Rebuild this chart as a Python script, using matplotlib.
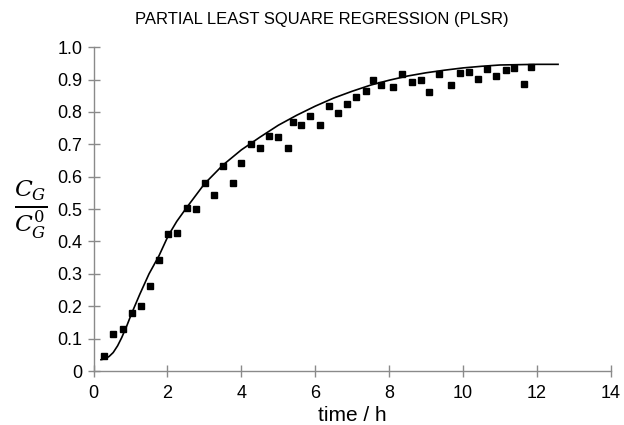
import matplotlib
matplotlib.use("Agg")
import matplotlib.pyplot as plt

# measured points (time in h, C_G / C_G^0)
time_obs = [0.28, 0.53, 0.79, 1.04, 1.29, 1.53, 1.77, 2.02, 2.27, 2.52, 2.76, 3.01,
            3.26, 3.51, 3.76, 4.00, 4.25, 4.50, 4.75, 5.00, 5.25, 5.39, 5.62, 5.86,
            6.12, 6.37, 6.62, 6.86, 7.11, 7.36, 7.55, 7.79, 8.10, 8.35, 8.61, 8.85,
            9.09, 9.36, 9.66, 9.92, 10.15, 10.40, 10.65, 10.90, 11.15, 11.39, 11.65, 11.84]
conc_obs = [0.047, 0.114, 0.130, 0.180, 0.200, 0.264, 0.344, 0.424, 0.427, 0.503, 0.499, 0.581,
            0.542, 0.634, 0.582, 0.641, 0.702, 0.689, 0.727, 0.723, 0.689, 0.770, 0.761, 0.787,
            0.761, 0.818, 0.796, 0.824, 0.846, 0.865, 0.900, 0.884, 0.878, 0.918, 0.894, 0.900,
            0.862, 0.916, 0.883, 0.921, 0.923, 0.903, 0.932, 0.910, 0.929, 0.936, 0.887, 0.940]

# PLSR model curve
time_fit = [0.20, 0.31, 0.42, 0.53, 0.65, 0.76, 0.90, 1.03, 1.25, 1.50, 1.77, 2.02, 2.25,
            2.52, 3.00, 3.50, 4.00, 4.50, 5.00, 5.50, 6.00, 6.50, 7.00, 7.50, 8.00,
            8.50, 9.00, 9.50, 10.00, 10.50, 11.00, 11.50, 12.00, 12.57]
conc_fit = [0.035, 0.038, 0.045, 0.057, 0.078, 0.103, 0.140, 0.178, 0.237, 0.300, 0.356, 0.418, 0.462,
            0.505, 0.578, 0.636, 0.683, 0.722, 0.759, 0.790, 0.818, 0.843, 0.864, 0.883, 0.898,
            0.911, 0.921, 0.929, 0.936, 0.941, 0.945, 0.946, 0.947, 0.947]

xticks = [0, 2, 4, 6, 8, 10, 12, 14]
yticks = [0, 0.1, 0.2, 0.3, 0.4, 0.5, 0.6, 0.7, 0.8, 0.9, 1.0]
ytick_labels = ["0"] + [f"{v:.1f}" for v in yticks[1:]]

plt.rcParams['font.family'] = ['Liberation Sans', 'DejaVu Sans']
plt.rcParams['mathtext.fontset'] = 'dejavuserif'

fig = plt.figure(figsize=(6.24, 4.25), dpi=100)
ax = fig.add_axes([0.150, 0.127, 0.829, 0.762])

ax.plot(time_fit, conc_fit, color='black', linewidth=1.2, zorder=2)
ax.plot(time_obs, conc_obs, linestyle='none', marker='s', markersize=5,
        color='black', zorder=3)

ax.set_xlim(0, 14)
ax.set_ylim(0, 1.0)
ax.set_xticks(xticks)
ax.set_yticks(yticks)
ax.set_yticklabels(ytick_labels)

for side in ['top', 'right']:
    ax.spines[side].set_visible(False)
for side in ['left', 'bottom']:
    ax.spines[side].set_color('#8a8a8a')
    ax.spines[side].set_linewidth(1.0)
ax.tick_params(direction='inout', length=8, width=1.0, color='#8a8a8a',
               labelsize=13, labelcolor='black')
ax.tick_params(axis='x', pad=6)
ax.tick_params(axis='y', pad=4)

ax.set_xlabel('time / h', fontsize=15, labelpad=3)
ax.set_ylabel(r'$\frac{C_G}{C_G^0}$', fontsize=24, rotation=0,
              ha='center', va='center')
ax.yaxis.set_label_coords(-0.122, 0.5)

fig.text(0.516, 0.953, 'PARTIAL LEAST SQUARE REGRESSION (PLSR)',
         ha='center', va='center', fontsize=12)

fig.savefig('out.png', dpi=100)
